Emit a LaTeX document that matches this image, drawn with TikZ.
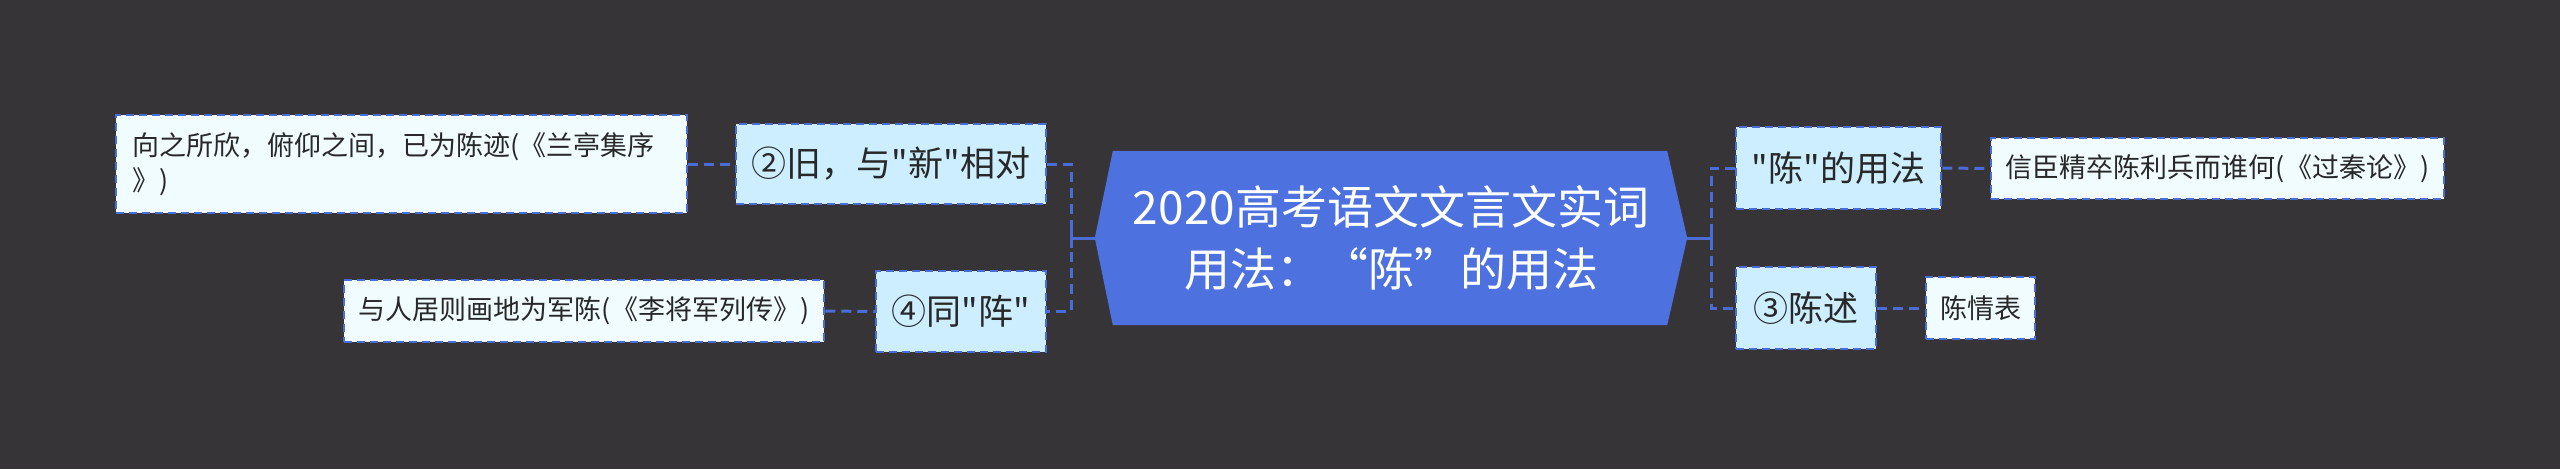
\documentclass[tikz,border=0pt]{standalone}
\usepackage{fontspec}
\newfontfamily\cjk{Noto Sans CJK SC}
\usetikzlibrary{backgrounds}
\definecolor{bg}{RGB}{54,52,54}
\definecolor{mainblue}{RGB}{78,113,224}
\definecolor{edgeblue}{RGB}{74,108,214}
\definecolor{lvlfill}{RGB}{204,238,255}
\definecolor{leaffill}{RGB}{240,252,255}
\definecolor{txt}{RGB}{40,40,40}
\begin{document}
\begin{tikzpicture}[x=1pt,y=-1pt,
  box/.style={draw=edgeblue, line width=2.5pt, dash pattern=on 8pt off 5pt, inner sep=0pt, text=txt},
  lvlbox/.style={box, fill=lvlfill, font=\cjk\fontsize{35}{42}\selectfont},
  leafbox/.style={box, fill=leaffill, font=\cjk\fontsize{27}{35}\selectfont},
  conn/.style={draw=edgeblue, line width=3pt, dash pattern=on 10pt off 6pt},
  stub/.style={draw=edgeblue, line width=3pt}]
\useasboundingbox (0,0) rectangle (2560,469);

% central
\node[minimum width=592, minimum height=174, inner sep=0pt, text=white, align=center,
      font=\cjk\fontsize{46}{62}\selectfont] (c) at (1391,238) {2020高考语文文言文实词\\用法：“陈”的用法};
\begin{scope}[on background layer]
  \fill[bg] (0,0) rectangle (2560,469);
  \fill[mainblue] (c.west) -- ([xshift=18]c.north west) -- ([xshift=-20]c.north east)
     -- (c.east) -- ([xshift=-20]c.south east) -- ([xshift=18]c.south west) -- cycle;
\end{scope}

% left level 1
\node[lvlbox, minimum width=310, minimum height=80] (n2) at (891,164) {②旧，与"新"相对};
\node[lvlbox, minimum width=170, minimum height=81] (n4) at (961,311.5) {④同"阵"};
% left leaves
\node[leafbox, text width=539, inner xsep=16, minimum height=98, align=left] (l1) at (401.5,164)
  {向之所欣，俯仰之间，已为陈迹(《兰亭集序\\》)};
\node[leafbox, minimum width=480, minimum height=62] (l2) at (584,311) {与人居则画地为军陈(《李将军列传》)};

% right level 1
\node[lvlbox, minimum width=205, minimum height=82] (r1) at (1838.5,168) {"陈"的用法};
\node[lvlbox, minimum width=140, minimum height=82] (r3) at (1806,308) {③陈述};
% right leaves
\node[leafbox, minimum width=453, minimum height=61] (rl1) at (2217.5,168.5) {信臣精卒陈利兵而谁何(《过秦论》)};
\node[leafbox, minimum width=109, minimum height=62] (rl3) at (1980.5,308) {陈情表};

% connectors left
\coordinate (lb) at (1071,238);
\draw[stub] (c.west) -- (lb);
\draw[stub] ([yshift=-10]lb) -- ([yshift=10]lb);
\draw[conn] (n2.east) -| (lb) |- (n4.east);
\draw[conn] (l1.east) -- (n2.west);
\draw[conn] (l2.east) -- (n4.west);

% connectors right
\coordinate (rb) at (1711,238);
\draw[stub] (c.east) -- (rb);
\draw[stub] ([yshift=-10]rb) -- ([yshift=10]rb);
\draw[conn] (r1.west) -| (rb) |- (r3.west);
\draw[conn] (r1.east) -- (rl1.west);
\draw[conn] (r3.east) -- (rl3.west);
\end{tikzpicture}
\end{document}
